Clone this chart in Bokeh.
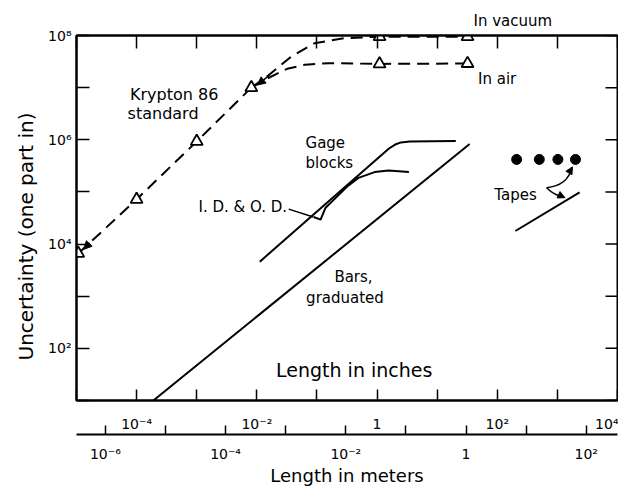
import numpy as np
from bokeh.plotting import figure
from bokeh.models import Range1d, LogAxis, FixedTicker, Label, Arrow, NormalHead, Title
from bokeh.embed import file_html
from bokeh.resources import INLINE

# ---------------- data (length in inches, uncertainty = one part in N) ----------------
krypton_len_in = [1.07e-5, 1e-4, 1e-3, 8.1e-3]
krypton_unc = [6.6e3, 7.2e4, 9.3e5, 1.0e7]

vacuum_len_in = [8.1e-3, 1.5e-2, 3.7e-2, 9.1e-2, 0.29, 1.1, 32]
vacuum_unc = [1.0e7, 1.66e7, 3.9e7, 7.1e7, 8.9e7, 9.5e7, 9.5e7]
vacuum_mark_len_in = [1.1, 32]
vacuum_mark_unc = [9.5e7, 9.5e7]

air_len_in = [8.1e-3, 1.5e-2, 3.2e-2, 6.3e-2, 0.16, 1.1, 32]
air_unc = [1.0e7, 1.5e7, 2.3e7, 2.75e7, 2.95e7, 2.85e7, 2.9e7]
air_mark_len_in = [1.1, 32]
air_mark_unc = [2.85e7, 2.9e7]

gage_len_in = [0.0112, 0.0537, 1.58, 2.0, 2.5, 3.5, 20.4]
gage_unc = [4.6e3, 2.24e4, 6.8e5, 8.1e5, 8.9e5, 9.3e5, 9.5e5]

idod_len_in = [0.0881, 0.115, 0.138, 0.224, 0.331, 0.49, 0.91, 1.55, 3.39]
idod_unc = [3.3e4, 2.95e4, 4.9e4, 8.5e4, 1.32e5, 1.86e5, 2.4e5, 2.57e5, 2.4e5]

bars_len_in = [1.9e-4, 34.7]
bars_unc = [10, 8.3e5]

tapes_dot_len_in = [210, 500, 1020, 2000]
tapes_dot_unc = [4.2e5, 4.2e5, 4.2e5, 4.2e5]
tapes_line_len_in = [200, 2340]
tapes_line_unc = [1.78e4, 9.8e4]

# axes ticks and labels
inch_ticks = [1e-5, 1e-4, 1e-3, 1e-2, 1e-1, 1.0, 1e1, 1e2, 1e3, 1e4]
inch_tick_labels = ["", "10⁻⁴", "", "10⁻²", "", "1", "", "10²", "", "10⁴"]
meter_ticks = [1e-6, 1e-5, 1e-4, 1e-3, 1e-2, 1e-1, 1.0, 1e1, 1e2]
meter_tick_labels = ["10⁻⁶", "", "10⁻⁴", "", "10⁻²", "", "1", "", "10²"]
unc_ticks = [1e1, 1e2, 1e3, 1e4, 1e5, 1e6, 1e7, 1e8]
unc_tick_labels = ["", "10²", "", "10⁴", "", "10⁶", "", "10⁸"]

X_MIN, X_MAX = 1e-5, 1e4
Y_MIN, Y_MAX = 1e1, 1e8
FONT = "DejaVu Sans"

p = figure(width=618, height=488, x_axis_type="log", y_axis_type="log",
           x_range=Range1d(X_MIN, X_MAX), y_range=Range1d(Y_MIN, Y_MAX),
           output_backend="svg", toolbar_location=None,
           min_border_left=76, min_border_right=1, min_border_top=35, min_border_bottom=88)
p.extra_x_ranges = {"meters": Range1d(10 ** -6.48, 10 ** 2.52)}
p.xgrid.visible = False
p.ygrid.visible = False
p.outline_line_color = "black"
p.outline_line_width = 2
p.background_fill_color = "white"

# "In vacuum" sits above the frame: use the plot title for it
p.title.text = "In vacuum"
p.title.align = "left"
p.title.offset = 397
p.title.standoff = 11
p.title.text_font = FONT
p.title.text_font_size = "15px"
p.title.text_font_style = "normal"
p.title.text_color = "black"


def style_axis(ax, tick_in, ticks, labels, size="14px"):
    ax.ticker = FixedTicker(ticks=ticks, minor_ticks=[])
    ax.major_tick_in = tick_in
    ax.major_tick_out = 0
    ax.minor_tick_line_color = None
    ax.axis_line_width = 2
    ax.major_tick_line_width = 1.5
    ax.major_label_text_font = FONT
    ax.major_label_text_font_size = size
    ax.major_label_text_color = "black"
    ax.major_label_overrides = {t: l for t, l in zip(ticks, labels)}


# bottom inch axis
xa = p.xaxis[0]
style_axis(xa, 11, inch_ticks, inch_tick_labels)
xa.major_label_standoff = 15

# left axis
ya = p.yaxis[0]
style_axis(ya, 13, unc_ticks, unc_tick_labels)
ya.major_label_standoff = 5
p.add_layout(Title(text="Uncertainty (one part in)", align="left", offset=40, standoff=15,
                   text_font=FONT, text_font_size="20px", text_font_style="normal",
                   text_color="black"), "left")

# meters axis
ma = LogAxis(x_range_name="meters")
style_axis(ma, 9, meter_ticks, meter_tick_labels)
ma.major_label_standoff = 11
ma.axis_label = "Length in meters"
ma.axis_label_text_font = FONT
ma.axis_label_text_font_size = "18px"
ma.axis_label_text_font_style = "normal"
ma.axis_label_text_color = "black"
ma.axis_label_standoff = 0
p.add_layout(ma, "below")

# top frame axis (ticks only)
ta = LogAxis()
style_axis(ta, 13, inch_ticks, [""] * len(inch_ticks), "1px")
ta.major_label_standoff = 0
p.add_layout(ta, "above")

# right frame ticks, pointing inward from the right edge
p.ray(x=[X_MAX] * len(unc_ticks), y=unc_ticks, length=12, length_units="screen",
      angle=np.pi, line_color="black", line_width=1.5)

DASH = "12 7"
# dashed krypton standard curves
p.line(krypton_len_in, krypton_unc, line_color="black", line_width=2, line_dash=DASH)
p.line(vacuum_len_in, vacuum_unc, line_color="black", line_width=2, line_dash=DASH)
p.line(air_len_in, air_unc, line_color="black", line_width=2, line_dash=DASH)
tri = dict(marker="triangle", size=12, fill_color="white", line_color="black", line_width=1.8)
p.scatter(krypton_len_in, krypton_unc, **tri)
p.scatter(vacuum_mark_len_in, vacuum_mark_unc, **tri)
p.scatter(air_mark_len_in, air_mark_unc, **tri)

# solid curves
p.line(gage_len_in, gage_unc, line_color="black", line_width=2)
p.line(idod_len_in, idod_unc, line_color="black", line_width=2)
p.line(bars_len_in, bars_unc, line_color="black", line_width=2)
p.line(tapes_line_len_in, tapes_line_unc, line_color="black", line_width=2)
p.scatter(tapes_dot_len_in, tapes_dot_unc, marker="circle", size=10, fill_color="black", line_color="black")

# ---------------- annotations ----------------
def L(x_log, y_log, text, size="15px", align="left"):
    p.add_layout(Label(x=10 ** x_log, y=10 ** y_log, text=text, text_font=FONT,
                       text_font_size=size, text_align=align, text_baseline="middle",
                       text_color="black"))

L(-4.11, 6.87, "Krypton 86", "16px")
L(-4.15, 6.51, "standard", "16px")
L(-1.19, 5.94, "Gage")
L(-1.19, 5.56, "blocks")
L(-2.97, 4.72, "I. D. & O. D.")
L(-0.71, 3.37, "Bars,")
L(-1.18, 2.96, "graduated")
L(1.95, 4.95, "Tapes")
L(1.68, 7.16, "In air")
L(-0.38, 1.58, "Length in inches", "19px", "center")

# leader for I.D. & O.D.
p.line([10 ** -1.47, 10 ** -1.06], [10 ** 4.67, 10 ** 4.52], line_color="black", line_width=1.5)

# arrowheads on the krypton curve
for xs, ys, xe, ye in [(-4.78, 4.02, -4.88, 3.90), (-1.79, 7.24, -1.99, 7.05)]:
    p.add_layout(Arrow(end=NormalHead(size=8, fill_color="black", line_color="black"),
                       x_start=10 ** xs, y_start=10 ** ys, x_end=10 ** xe, y_end=10 ** ye,
                       line_color="black", line_width=1.5))

# Tapes pointer arrows
p.quadratic(x0=[10 ** 2.82, 10 ** 2.82], y0=[10 ** 5.08, 10 ** 5.08],
            x1=[10 ** 3.24, 10 ** 3.115], y1=[10 ** 5.46, 10 ** 4.90],
            cx=[10 ** 3.17, 10 ** 2.95], cy=[10 ** 5.12, 10 ** 4.93],
            line_color="black", line_width=1.5)
for xs, ys, xe, ye in [(3.20, 5.38, 3.25, 5.48), (3.05, 4.93, 3.125, 4.89)]:
    p.add_layout(Arrow(end=NormalHead(size=7, fill_color="black", line_color="black"),
                       x_start=10 ** xs, y_start=10 ** ys, x_end=10 ** xe, y_end=10 ** ye,
                       line_color="black", line_width=1.5))

open("out.html", "w").write(file_html(p, INLINE))
